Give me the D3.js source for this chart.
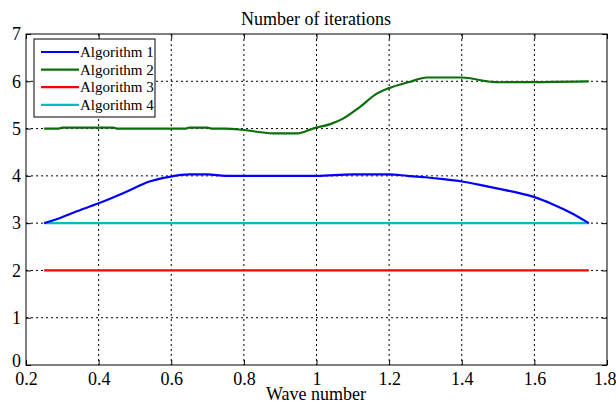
<!DOCTYPE html>
<html><head><meta charset="utf-8">
<script src="https://cdn.jsdelivr.net/npm/d3@7"></script>
<style>body{margin:0;background:#fff}svg{display:block}svg text{font-family:"Liberation Serif","Times New Roman",Times,serif !important}</style>
</head><body><svg id="c" width="616" height="402"></svg>
<script>
const xTicks=[0.2,0.4,0.6,0.8,1,1.2,1.4,1.6,1.8];
const yTicks=[0,1,2,3,4,5,6,7];
const seriesNames=["Algorithm 1","Algorithm 2","Algorithm 3","Algorithm 4"];
const seriesColors=["#0000ff","#0a6e0a","#ff0000","#00bfbf"];
const alg1X=[0.25,0.29,0.34,0.40,0.475,0.54,0.595,0.65,0.70,0.75,1.0,1.1,1.2,1.25,1.30,1.35,1.40,1.45,1.50,1.55,1.60,1.65,1.70,1.75];
const alg1Y=[3.0,3.10,3.25,3.42,3.66,3.88,3.98,4.03,4.03,4.0,4.0,4.03,4.03,4.0,3.97,3.93,3.88,3.81,3.73,3.65,3.55,3.40,3.22,3.0];
const alg2X=[0.25,0.29,0.30,0.44,0.45,0.64,0.65,0.70,0.71,0.75,0.80,0.88,0.95,0.99,1.04,1.073,1.12,1.166,1.198,1.258,1.303,1.40,1.48,1.50,1.75];
const alg2Y=[5.0,5.0,5.02,5.02,5.0,5.0,5.02,5.02,5.0,5.0,4.97,4.9,4.9,5.0,5.1,5.21,5.46,5.74,5.85,5.99,6.08,6.08,5.99,5.98,6.0];
const alg3X=[0.25,1.75], alg3Y=[2,2];
const alg4X=[0.25,1.75], alg4Y=[3,3];
const svg=d3.select("#c");
const m={l:26,r:607,t:34,b:365};
const x=d3.scaleLinear().domain([0.2,1.8]).range([m.l,m.r]);
const y=d3.scaleLinear().domain([0,7]).range([m.b,m.t]);
const W=m.r-m.l,H=m.b-m.t;
const g=svg.append("g");
g.selectAll(".gx").data(xTicks.slice(1,-1)).join("line").attr("x1",d=>x(d)).attr("x2",d=>x(d)).attr("y1",m.t).attr("y2",m.b)
 .attr("stroke","#000").attr("stroke-width",1).attr("stroke-dasharray","2,3");
g.selectAll(".gy").data(yTicks.slice(1,-1)).join("line").attr("y1",d=>y(d)).attr("y2",d=>y(d)).attr("x1",m.l).attr("x2",m.r)
 .attr("stroke","#000").attr("stroke-width",1).attr("stroke-dasharray","2,3");
const line=d3.line().x(d=>x(d[0])).y(d=>y(d[1]));
const data=[[alg1X,alg1Y],[alg2X,alg2Y],[alg3X,alg3Y],[alg4X,alg4Y]].map(([xs,ys])=>xs.map((v,i)=>[v,ys[i]]));
[3,2,1,0].forEach(i=>{
 svg.append("path").datum(data[i]).attr("d",line.curve(i<2?d3.curveMonotoneX:d3.curveLinear)(data[i]))
  .attr("fill","none").attr("stroke",seriesColors[i]).attr("stroke-width",2.2);
});
const fmt=d=>String(d);
const ax=d3.axisBottom(x).tickValues(xTicks).tickSize(-5).tickPadding(7).tickFormat(fmt);
const ay=d3.axisLeft(y).tickValues(yTicks).tickSize(-5).tickPadding(5).tickFormat(fmt);
const gx=svg.append("g").attr("transform",`translate(0,${m.b})`).call(ax);
const gy=svg.append("g").attr("transform",`translate(${m.l},0)`).call(ay);
svg.append("g").attr("transform",`translate(0,${m.t})`).call(d3.axisTop(x).tickValues(xTicks).tickSize(-5).tickFormat(""));
svg.append("g").attr("transform",`translate(${m.r},0)`).call(d3.axisRight(y).tickValues(yTicks).tickSize(-5).tickFormat(""));
svg.selectAll(".domain").remove();
svg.selectAll(".tick line").attr("stroke","#000");
[gx,gy].forEach(a=>a.selectAll("text").attr("font-size",18).attr("fill","#000"));
gx.selectAll("text").attr("dy","0.71em");
gy.selectAll(".tick").filter(d=>d===0).select("text").attr("dy","0.1em");
gx.selectAll(".tick").filter(d=>d===1.8).select("text").attr("text-anchor","end").attr("dx","9");
svg.append("rect").attr("x",m.l).attr("y",m.t).attr("width",W).attr("height",H).attr("fill","none").attr("stroke","#000").attr("stroke-width",1);
svg.append("text").attr("x",316).attr("y",25).attr("text-anchor","middle").attr("font-size",18).text("Number of iterations");
svg.append("text").attr("x",316).attr("y",400).attr("text-anchor","middle").attr("font-size",18).text("Wave number");
const lg=svg.append("g");
lg.append("rect").attr("x",34).attr("y",39).attr("width",121).attr("height",78).attr("fill","#fff").attr("stroke","#000").attr("stroke-width",1);
seriesNames.forEach((n,i)=>{
 const yy=52+i*17.6;
 lg.append("line").attr("x1",41).attr("x2",79).attr("y1",yy).attr("y2",yy).attr("stroke",seriesColors[i]).attr("stroke-width",2.2);
 lg.append("text").attr("x",80).attr("y",yy).attr("dy","0.35em").attr("font-size",15).text(n);
});
</script></body></html>
